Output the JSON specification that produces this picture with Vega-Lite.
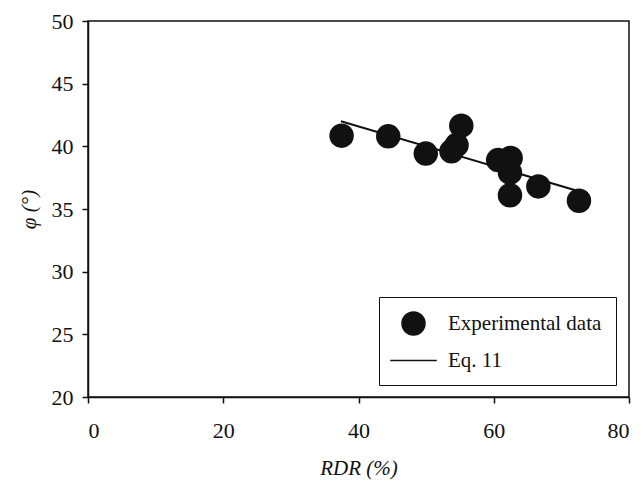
{
  "$schema": "https://vega.github.io/schema/vega-lite/v6.json",
  "width": 541,
  "height": 376,
  "autosize": {"type": "none"},
  "padding": {"left": 88, "top": 21, "right": 14, "bottom": 85},
  "background": "white",
  "config": {
    "font": "Liberation Serif",
    "view": {"stroke": "#111", "strokeWidth": 1.5},
    "axis": {
      "grid": false,
      "domainColor": "#111",
      "domainWidth": 1.5,
      "tickColor": "#111",
      "tickWidth": 1.5,
      "tickSize": 6,
      "labelFont": "Liberation Serif",
      "labelFontSize": 22,
      "labelColor": "#111",
      "titleFont": "Liberation Serif",
      "titleFontSize": 21,
      "titleFontWeight": "normal",
      "titleColor": "#111"
    },
    "legend": {
      "labelFont": "Liberation Serif",
      "labelFontSize": 21,
      "labelColor": "#111"
    }
  },
  "datasets": {
    "exp": [
      {"RDR": 37.5, "phi": 40.85, "series": "Experimental data"},
      {"RDR": 44.4, "phi": 40.8, "series": "Experimental data"},
      {"RDR": 49.95, "phi": 39.42, "series": "Experimental data"},
      {"RDR": 53.75, "phi": 39.6, "series": "Experimental data"},
      {"RDR": 54.5, "phi": 40.1, "series": "Experimental data"},
      {"RDR": 55.2, "phi": 41.65, "series": "Experimental data"},
      {"RDR": 60.65, "phi": 38.9, "series": "Experimental data"},
      {"RDR": 62.5, "phi": 39.07, "series": "Experimental data"},
      {"RDR": 62.4, "phi": 37.9, "series": "Experimental data"},
      {"RDR": 62.4, "phi": 36.1, "series": "Experimental data"},
      {"RDR": 66.6, "phi": 36.8, "series": "Experimental data"},
      {"RDR": 72.6, "phi": 35.66, "series": "Experimental data"}
    ],
    "eq": [
      {"RDR": 37.4, "phi": 42.0},
      {"RDR": 72.7, "phi": 36.4}
    ]
  },
  "layer": [
    {
      "data": {"name": "eq"},
      "mark": {"type": "line", "color": "#111", "strokeWidth": 2},
      "encoding": {
        "x": {"field": "RDR", "type": "quantitative"},
        "y": {"field": "phi", "type": "quantitative"}
      }
    },
    {
      "data": {"name": "exp"},
      "mark": {"type": "point", "filled": true, "opacity": 1, "size": 600, "color": "#111"},
      "encoding": {
        "x": {
          "field": "RDR", "type": "quantitative",
          "scale": {"domain": [0, 80], "nice": false, "zero": false},
          "axis": {"title": "RDR (%)", "titleFontStyle": "italic", "values": [0, 20, 40, 60, 80], "labelPadding": 17, "titlePadding": 16}
        },
        "y": {
          "field": "phi", "type": "quantitative",
          "scale": {"domain": [20, 50], "nice": false, "zero": false},
          "axis": {"title": "φ (°)", "titleFontStyle": "italic", "values": [20, 25, 30, 35, 40, 45, 50], "labelPadding": 9, "titlePadding": 12}
        },
        "shape": {
          "field": "series", "type": "nominal",
          "scale": {"domain": ["Experimental data", "Eq. 11"], "range": ["circle", "M-1.9,-0.07H1.9V0.07H-1.9Z"]},
          "legend": {
            "title": null,
            "orient": "none",
            "legendX": 291,
            "legendY": 276,
            "strokeColor": "#111",
            "fillColor": "white",
            "padding": 14,
            "symbolSize": 600,
            "symbolOffset": 8,
            "symbolFillColor": "#111",
            "symbolStrokeColor": "#111",
            "symbolStrokeWidth": 0,
            "labelOffset": 22,
            "rowPadding": 12,
            "encode": {
              "symbols": {
                "update": {
                  "fill": {"value": "#111"},
                  "opacity": {"value": 1}
                }
              }
            }
          }
        }
      }
    }
  ]
}
